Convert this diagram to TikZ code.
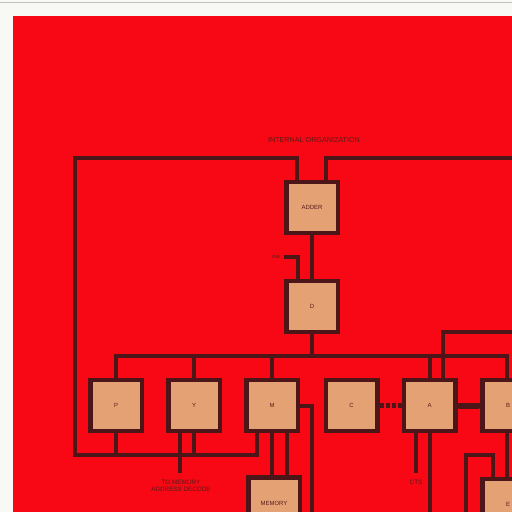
\documentclass[tikz,border=0pt]{standalone}
\usepackage{fontspec}
\setmainfont{Liberation Sans}
\definecolor{bgred}{RGB}{248,8,20}
\definecolor{wirec}{RGB}{76,22,24}
\definecolor{boxfill}{RGB}{228,162,116}
\definecolor{paper}{RGB}{248,248,244}
\definecolor{txt}{RGB}{88,26,26}
\begin{document}
\begin{tikzpicture}[x=1pt,y=-1pt,
 blk/.style={draw=wirec,fill=boxfill,line width=4.5pt,minimum width=51.5pt,minimum height=51pt,inner sep=0pt,outer sep=0pt,font=\fontsize{6}{7}\selectfont,text=txt},
 wire/.style={draw=wirec,line width=4pt},
 lbl/.style={font=\fontsize{6.3}{7}\selectfont,text=txt,inner sep=0pt,align=center}]
\useasboundingbox (0,0) rectangle (512,512);
\clip (0,0) rectangle (512,512);
\fill[paper] (0,0) rectangle (512,512);
\draw[gray!50,line width=0.8pt] (0,2) -- (512,2);
\fill[bgred] (13,16) rectangle (512,512);

% boxes
\node[blk] (ADDER) at (312,207.5) {ADDER};
\node[blk] (D) at (312,306.5) {D};
\node[blk] (P) at (116,405.5) {P};
\node[blk] (Y) at (194,405.5) {Y};
\node[blk] (M) at (272,405.5) {M};
\node[blk] (C) at (351.5,405.5) {C};
\node[blk] (A) at (429.5,405.5) {A};
\node[blk] (B) at (508,405.5) {B};
\node[blk] (MEM) at (274,503) {MEMORY};
\node[blk] (E) at (508,504.5) {E};

% labels
\node[lbl,font=\fontsize{7.2}{8}\selectfont] (title) at (314,140) {INTERNAL ORGANIZATION};
\node[lbl,font=\fontsize{4.5}{5}\selectfont] (inb) at (276,257) {INB};
\node[lbl] (tmad) at (181,485.5) {TO MEMORY\\ADDRESS DECODE};
\node[lbl] (cts) at (416,482) {CTS};

% coordinates
\coordinate (topL) at (75,158);
\coordinate (loopL) at (75,455);
\coordinate (topR) at (515,158);
\coordinate (inbS) at (284,257);
\coordinate (busL) at (116,356);
\coordinate (rightA) at (515,332);
\coordinate (mBot) at (312,515);
\coordinate (ctsEnd) at (416,473);
\coordinate (eloop) at (466,455);
\coordinate (ymem) at (180,473);

% wires
\draw[wire] ([xshift=-15pt]ADDER.north) |- (topL) -- (loopL) -| ([xshift=-15pt]M.south);
\draw[wire] (P.south) -- (P.south |- loopL);
\draw[wire] (Y.south) -- (Y.south |- loopL);
\draw[wire] ([xshift=14pt]ADDER.north) |- (topR);
\draw[wire] (ADDER.south) -- (D.north);
\draw[wire] (inbS) -| ([xshift=-14pt]D.north);
\draw[wire] (D.south) -- (D.south |- busL);
\draw[wire] (P.north) |- ([xshift=-1pt]B.north |- busL) -- ([xshift=-1pt]B.north);
\draw[wire] (Y.north) -- (Y.north |- busL);
\draw[wire] (M.north) -- (M.north |- busL);
\draw[wire] (A.north) -- (A.north |- busL);
\draw[wire] ([xshift=13.5pt]A.north) |- (rightA);
\draw[draw=wirec,line width=5pt,dash pattern=on 4pt off 2pt] ([xshift=2.25pt]C.east) -- ([xshift=-2.25pt]A.west);
\draw[draw=wirec,line width=6pt,line cap=round] ([xshift=4pt]A.east) -- ([xshift=-4pt]B.west);
\draw[wire] (M.east) -| (mBot);
\draw[wire] (M.south) -- (M.south |- MEM.north);
\draw[wire] ([xshift=15pt]M.south) -- ([xshift=15pt]M.south |- MEM.north);
\draw[wire] ([xshift=-13.5pt]A.south) -- (ctsEnd);
\draw[wire] (A.south) -- (A.south |- mBot);
\draw[wire] ([xshift=-1pt]B.south) -- ([xshift=-1pt]B.south |- E.north);
\draw[wire] ([xshift=-15pt]E.north) |- (eloop) -- (eloop |- mBot);
\draw[wire] ([xshift=-14pt]Y.south) -- (ymem);
\end{tikzpicture}
\end{document}
